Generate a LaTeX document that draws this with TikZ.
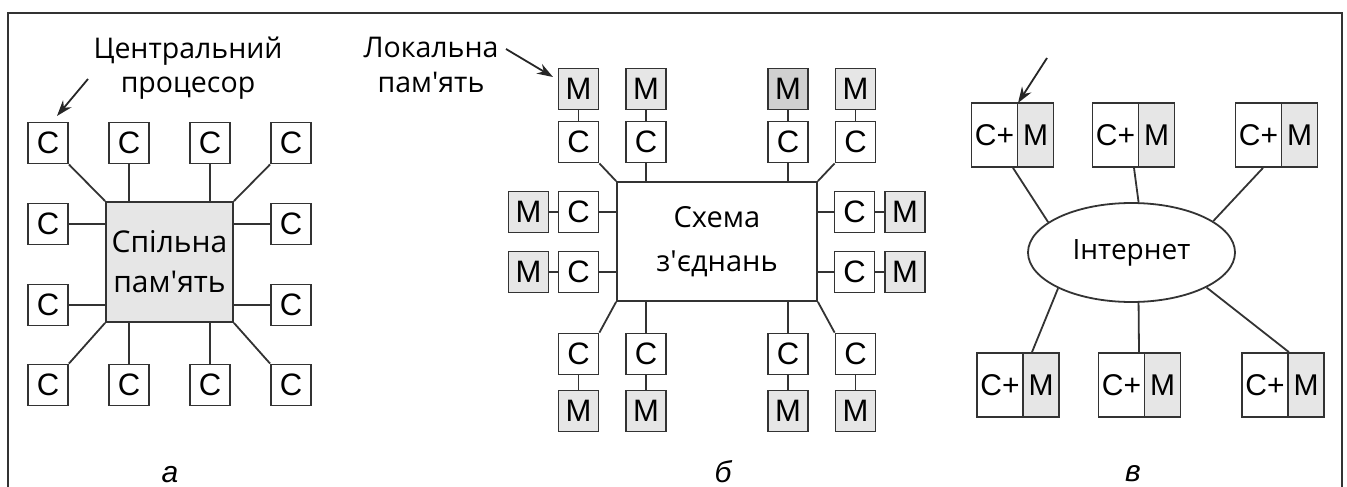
\documentclass[tikz,border=0pt]{standalone}
\usepackage{fontspec}
\setmainfont{Open Sans}
\newfontfamily\boxfont{Liberation Sans}
\usetikzlibrary{shapes.geometric,arrows.meta,calc}
\definecolor{linec}{HTML}{333333}
\definecolor{memfill}{HTML}{E6E6E6}
\definecolor{memdark}{HTML}{D0D0D0}
\newcommand{\apos}{\textquotesingle}
\tikzset{
  ln/.style={draw=linec, line width=1.8pt},
  cbox/.style={draw=linec, line width=1.8pt, fill=white, minimum width=40pt, minimum height=41pt,
    inner sep=0pt, font=\boxfont\fontsize{31}{32}\selectfont},
  mbox/.style={cbox, fill=memfill},
  cplus/.style={cbox, minimum width=46pt, minimum height=64pt, font=\boxfont\fontsize{30}{32}\selectfont},
  mpart/.style={cplus, fill=memfill, minimum width=36pt},
  lbl/.style={font=\fontsize{28.5}{34}\selectfont, align=center, inner sep=0pt},
  arr/.style={draw=black!85, line width=1.8pt, -{Stealth[length=16pt,width=11pt]}},
  sublbl/.style={font=\boxfont\itshape\fontsize{30}{30}\selectfont, inner sep=0pt, anchor=base},
}
\begin{document}
\begin{tikzpicture}[x=1pt,y=-1pt]
\useasboundingbox (0,0) rectangle (1347,487);
% frame
\draw[draw=linec, line width=2.2pt] (8,487) -- (8,13) -- (1342,13) -- (1342,487);

% ===== part a =====
\node[cbox] (a11) at (48,143) {С};
\node[cbox] (a12) at (129,143) {С};
\node[cbox] (a13) at (210,143) {С};
\node[cbox] (a14) at (291,143) {С};
\node[cbox] (a21) at (48,224) {С};
\node[cbox] (a24) at (291,224) {С};
\node[cbox] (a31) at (48,305) {С};
\node[cbox] (a34) at (291,305) {С};
\node[cbox] (a41) at (48,385) {С};
\node[cbox] (a42) at (129,385) {С};
\node[cbox] (a43) at (210,385) {С};
\node[cbox] (a44) at (291,385) {С};
\node[draw=linec, line width=1.8pt, fill=memfill, minimum width=127pt, minimum height=120pt,
  inner sep=0pt, align=center, font=\fontsize{30}{40}\selectfont] (sm) at (169.5,262) {Спільна\\пам\apos ять};
\draw[ln] (a11.south east) -- (sm.north west);
\draw[ln] (a12.south) -- (a12.south |- sm.north);
\draw[ln] (a13.south) -- (a13.south |- sm.north);
\draw[ln] (a14.south west) -- (sm.north east);
\draw[ln] (a21.east) -- (a21.east -| sm.west);
\draw[ln] (a31.east) -- (a31.east -| sm.west);
\draw[ln] (a24.west) -- (a24.west -| sm.east);
\draw[ln] (a34.west) -- (a34.west -| sm.east);
\draw[ln] (a41.north east) -- (sm.south west);
\draw[ln] (a42.north) -- (a42.north |- sm.south);
\draw[ln] (a43.north) -- (a43.north |- sm.south);
\draw[ln] (a44.north west) -- (sm.south east);
\node[lbl] (cpu) at (188,68) {Центральний\\процесор};
\coordinate (arA0) at (88,79);
\coordinate (arA1) at (57,116);
\draw[arr] (arA0) -- (arA1);
\node[sublbl] (la) at (170,482) {а};

% ===== part b =====
\node[draw=linec, line width=1.8pt, fill=white, minimum width=200pt, minimum height=119pt,
  inner sep=0pt, align=center, font=\fontsize{29}{44}\selectfont] (sx) at (717,241.5) {Схема\\з\apos єднань};
\node[mbox] (bm1) at (578.5,89) {М};
\node[mbox] (bm2) at (646,89) {М};
\node[mbox, fill=memdark] (bm3) at (788,89) {М};
\node[mbox] (bm4) at (855.5,89) {М};
\node[cbox] (bc1) at (578.5,142) {С};
\node[cbox] (bc2) at (646,142) {С};
\node[cbox] (bc3) at (788,142) {С};
\node[cbox] (bc4) at (855.5,142) {С};
\node[mbox] (bl1m) at (528.5,212) {М};
\node[cbox] (bl1c) at (578.5,212) {С};
\node[mbox] (bl2m) at (528.5,272) {М};
\node[cbox] (bl2c) at (578.5,272) {С};
\node[cbox] (br1c) at (854.5,212) {С};
\node[mbox] (br1m) at (905,212) {М};
\node[cbox] (br2c) at (854.5,272) {С};
\node[mbox] (br2m) at (905,272) {М};
\node[cbox] (bbc1) at (578.5,354) {С};
\node[cbox] (bbc2) at (646,354) {С};
\node[cbox] (bbc3) at (788,354) {С};
\node[cbox] (bbc4) at (855.5,354) {С};
\node[mbox] (bbm1) at (578.5,411) {М};
\node[mbox] (bbm2) at (646,411) {М};
\node[mbox] (bbm3) at (788,411) {М};
\node[mbox] (bbm4) at (855.5,411) {М};
\foreach \i in {1,2,3,4}{
  \draw[ln] (bm\i.south) -- (bc\i.north);
  \draw[ln] (bbc\i.south) -- (bbm\i.north);
}
\draw[ln] (bc1.south east) -- (sx.north west);
\draw[ln] (bc2.south) -- (bc2.south |- sx.north);
\draw[ln] (bc3.south) -- (bc3.south |- sx.north);
\draw[ln] (bc4.south west) -- (sx.north east);
\draw[ln] (bl1m.east) -- (bl1c.west);
\draw[ln] (bl2m.east) -- (bl2c.west);
\draw[ln] (br1c.east) -- (br1m.west);
\draw[ln] (br2c.east) -- (br2m.west);
\draw[ln] (bl1c.east) -- (bl1c.east -| sx.west);
\draw[ln] (bl2c.east) -- (bl2c.east -| sx.west);
\draw[ln] (br1c.west) -- (br1c.west -| sx.east);
\draw[ln] (br2c.west) -- (br2c.west -| sx.east);
\draw[ln] (bbc1.north east) -- (sx.south west);
\draw[ln] (bbc2.north) -- (bbc2.north |- sx.south);
\draw[ln] (bbc3.north) -- (bbc3.north |- sx.south);
\draw[ln] (bbc4.north west) -- (sx.south east);
\node[lbl, font=\fontsize{28.5}{35}\selectfont] (lmem) at (431,65) {Локальна\\пам\apos ять};
\coordinate (arB0) at (506,49);
\coordinate (arB1) at (553,77);
\draw[arr] (arB0) -- (arB1);
\node[sublbl] (lb) at (723,482) {б};

% ===== part c =====
\node[draw=linec, line width=1.8pt, ellipse, minimum width=207pt, minimum height=99pt, inner sep=0pt,
  font=\fontsize{28}{30}\selectfont] (net) at (1131.5,252.5) {Інтернет};
\node[cplus] (cm1c) at (994.5,135) {С+};
\node[mpart] (cm1m) at (1035.5,135) {М};
\node[cplus] (cm2c) at (1115.5,135) {С+};
\node[mpart] (cm2m) at (1156.5,135) {М};
\node[cplus] (cm3c) at (1258.5,135) {С+};
\node[mpart] (cm3m) at (1299.5,135) {М};
\node[cplus] (cm4c) at (1000,385) {С+};
\node[mpart] (cm4m) at (1041,385) {М};
\node[cplus] (cm5c) at (1121.5,385) {С+};
\node[mpart] (cm5m) at (1162.5,385) {М};
\node[cplus] (cm6c) at (1265,385) {С+};
\node[mpart] (cm6m) at (1306,385) {М};
\draw[ln] ([xshift=18.5pt]cm1c.south) -- (net.160);
\draw[ln] ([xshift=18.5pt]cm2c.south) -- (net.82.5);
\draw[ln] ([xshift=4.5pt]cm3c.south) -- (net.21);
\draw[ln] ([xshift=-9pt]cm4m.north) -- (net.206);
\draw[ln] ([xshift=17.5pt]cm5c.north) -- (net.278.6);
\draw[ln] (cm6c.north east) -- (net.335);
\coordinate (arC0) at (1047,58);
\coordinate (arC1) at (1018,103);
\draw[arr] (arC0) -- (arC1);
\node[sublbl] (lc) at (1133,481) {в};
\end{tikzpicture}
\end{document}
